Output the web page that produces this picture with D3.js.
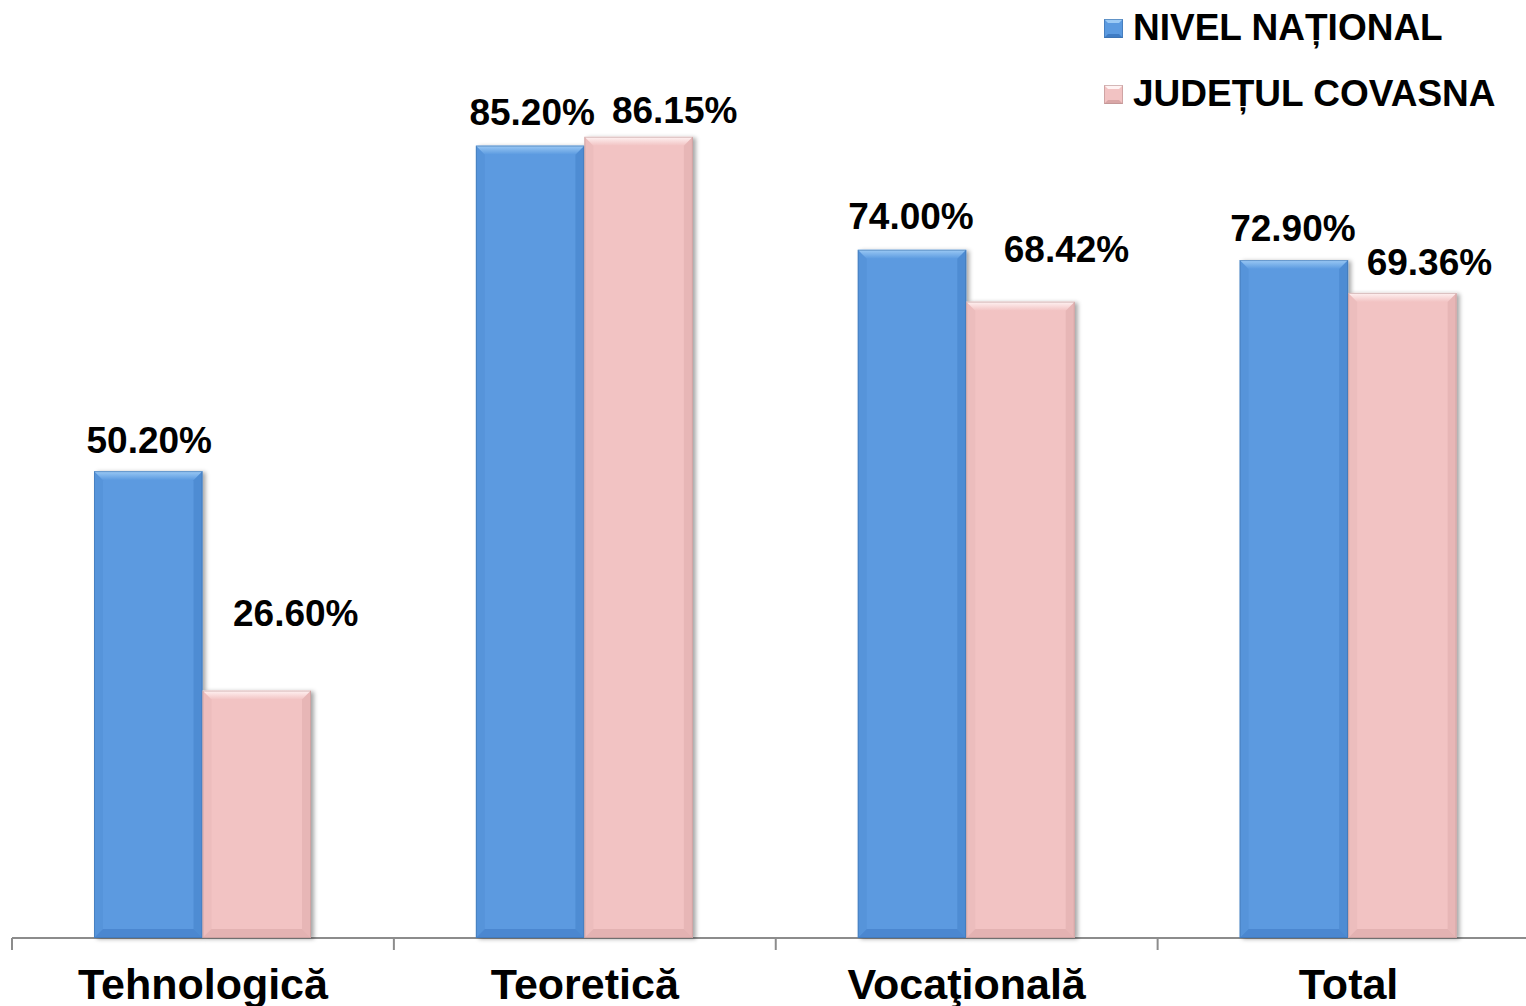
<!DOCTYPE html>
<html><head><meta charset="utf-8">
<script src="https://cdn.jsdelivr.net/npm/d3@7"></script>
<style>
html,body{margin:0;padding:0;background:#fff;}
svg{display:block;font-family:"Liberation Sans",Arial,sans-serif;}
</style></head>
<body><svg id="c" width="1526" height="1006"></svg>
<script>
// ---- data ----
const categories = ["Tehnologică", "Teoretică", "Vocaţională", "Total"];
const seriesNames = ["NIVEL NAȚIONAL", "JUDEȚUL COVASNA"];
const nationalValues = [50.20, 85.20, 74.00, 72.90];
const covasnaValues = [26.60, 86.15, 68.42, 69.36];

// ---- layout (label nudges as placed in the original, in px) ----
const labelNudge = {
  "NIVEL NAȚIONAL": [[1,-18],[2,-21],[-1,-21],[-1,-19]],
  "JUDEȚUL COVASNA": [[39,-65],[36,-14],[46,-40],[27,-18]]
};
const colors = {
  "NIVEL NAȚIONAL": {base:"#5b9ae0", light:"#9ccaf5", dark:"#3f7cc4", edge:"#3a6ea8"},
  "JUDEȚUL COVASNA": {base:"#f2c3c3", light:"#fff3f3", dark:"#d9a6a6", edge:"#b88f8f"}
};

const series = [
  {name: seriesNames[0], values: nationalValues},
  {name: seriesNames[1], values: covasnaValues}
];

const svg = d3.select("#c");
const baseY = 938;
const y = d3.scaleLinear().domain([0, 100]).range([baseY, 8]);
const x0 = d3.scaleBand().domain(categories).range([12, 1539.5]).padding(0);
const x1 = d3.scaleBand().domain(seriesNames).range([82, 299]).padding(0);

const defs = svg.append("defs");
const f = defs.append("filter").attr("id","sh").attr("x","-10%").attr("y","-10%").attr("width","130%").attr("height","130%");
f.append("feDropShadow").attr("dx",3).attr("dy",1).attr("stdDeviation",2).attr("flood-color","#000").attr("flood-opacity",0.35);

Object.entries(colors).forEach(([k,c],i)=>{
  const g = defs.append("linearGradient").attr("id","top"+i).attr("x1",0).attr("y1",0).attr("x2",0).attr("y2",1);
  g.append("stop").attr("offset",0).attr("stop-color",c.light);
  g.append("stop").attr("offset",1).attr("stop-color",c.base);
});

// axis: baseline plus ticks at category boundaries
const ag = svg.append("g").attr("transform",`translate(0,${baseY})`);
ag.append("line").attr("x1",12).attr("x2",1526).attr("y1",0).attr("y2",0).attr("stroke","#8c8c8c").attr("stroke-width",2);
ag.selectAll(".bt").data(categories).join("line")
  .attr("x1",d=>x0(d)).attr("x2",d=>x0(d)).attr("y1",0).attr("y2",12)
  .attr("stroke","#8c8c8c").attr("stroke-width",2);

// category labels
svg.append("g").selectAll("text").data(categories).join("text")
  .attr("x",d=>x0(d)+x0.bandwidth()/2).attr("y",999)
  .attr("text-anchor","middle").attr("font-size",43).attr("font-weight","bold").attr("fill","#000")
  .text(d=>d);

// bars
const bev = 9;
series.forEach((s,si)=>{
  const c = colors[s.name];
  const g = svg.append("g");
  s.values.forEach((v,i)=>{
    const cat = categories[i];
    const bx = x0(cat) + x1(s.name), bw = x1.bandwidth();
    const top = y(v), h = baseY - top;
    const bg = g.append("g");
    bg.append("rect").attr("x",bx).attr("y",top).attr("width",bw).attr("height",h)
      .attr("fill",c.base).attr("filter","url(#sh)");
    bg.append("path").attr("d",`M${bx},${top}L${bx+bw},${top}L${bx+bw-bev},${top+bev}L${bx+bev},${top+bev}Z`)
      .attr("fill",`url(#top${si})`);
    bg.append("path").attr("d",`M${bx+bw},${top}L${bx+bw},${baseY}L${bx+bw-bev},${baseY-bev}L${bx+bw-bev},${top+bev}Z`)
      .attr("fill",c.dark).attr("opacity",0.45);
    bg.append("path").attr("d",`M${bx},${top}L${bx},${baseY}L${bx+bev},${baseY-bev}L${bx+bev},${top+bev}Z`)
      .attr("fill",c.dark).attr("opacity",0.2);
    bg.append("path").attr("d",`M${bx},${baseY}L${bx+bw},${baseY}L${bx+bw-bev},${baseY-bev}L${bx+bev},${baseY-bev}Z`)
      .attr("fill",c.dark).attr("opacity",0.6);
    bg.append("rect").attr("x",bx+0.5).attr("y",top+0.5).attr("width",bw-1).attr("height",h-1)
      .attr("fill","none").attr("stroke",c.edge).attr("stroke-opacity",0.5).attr("stroke-width",1);
  });
});

// value labels
series.forEach(s=>{
  s.values.forEach((v,i)=>{
    const cat = categories[i];
    const n = labelNudge[s.name][i];
    svg.append("text")
      .attr("x", x0(cat) + x1(s.name) + x1.bandwidth()/2 + n[0])
      .attr("y", y(v) + n[1])
      .attr("text-anchor","middle").attr("font-size",37).attr("font-weight","bold").attr("fill","#000")
      .text(v.toFixed(2) + "%");
  });
});

// legend
const lg = svg.append("g");
const legendRows = [{y:28, name:seriesNames[0]}, {y:94, name:seriesNames[1]}];
legendRows.forEach((r,i)=>{
  const c = colors[r.name];
  const sx = 1104, sy = r.y - 9, ss = 19;
  lg.append("rect").attr("x",sx).attr("y",sy).attr("width",ss).attr("height",ss).attr("fill",c.base);
  lg.append("path").attr("d",`M${sx},${sy}L${sx+ss},${sy}L${sx+ss-4},${sy+4}L${sx+4},${sy+4}Z`).attr("fill",c.light);
  lg.append("path").attr("d",`M${sx},${sy+ss}L${sx+ss},${sy+ss}L${sx+ss-4},${sy+ss-4}L${sx+4},${sy+ss-4}Z`).attr("fill",c.dark);
  lg.append("rect").attr("x",sx+0.5).attr("y",sy+0.5).attr("width",ss-1).attr("height",ss-1).attr("fill","none").attr("stroke",c.edge).attr("stroke-opacity",0.6);
  lg.append("text").attr("x",1133).attr("y",r.y+12).attr("font-size",37).attr("font-weight","bold").attr("fill","#000").text(r.name);
});
</script></body></html>
